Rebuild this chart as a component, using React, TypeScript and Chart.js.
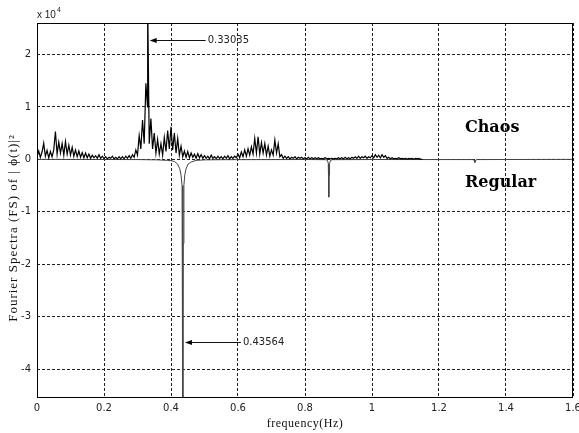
import { useEffect, useRef } from 'react';
import { Chart, registerables } from 'chart.js';

Chart.register(...registerables);

// Chaos spectrum, sampled every 0.005 Hz from 0 to 1.15 Hz (units of 10^4)
const chaosStep = 0.005;
const chaosValues = [
  0.05, 0.16, 0.04, 0.14, 0.31, 0.06, 0.17, 0.03, 0.15, 0.05,
  0.18, 0.53, 0.10, 0.33, 0.12, 0.30, 0.08, 0.34, 0.10, 0.27,
  0.08, 0.23, 0.06, 0.18, 0.05, 0.16, 0.04, 0.13, 0.03, 0.12,
  0.03, 0.10, 0.02, 0.08, 0.03, 0.07, 0.02, 0.09, 0.02, 0.06,
  0.01, 0.05, 0.01, 0.04, 0.02, 0.06, 0.01, 0.04, 0.01, 0.05,
  0.01, 0.05, 0.01, 0.06, 0.02, 0.07, 0.02, 0.09, 0.04, 0.18,
  0.08, 0.45, 0.20, 0.75, 0.30, 1.45, 1.00, 0.30, 0.78, 0.20,
  0.50, 0.12, 0.38, 0.10, 0.30, 0.08, 0.42, 0.15, 0.55, 0.20,
  0.62, 0.18, 0.50, 0.12, 0.40, 0.08, 0.25, 0.05, 0.16, 0.04,
  0.15, 0.03, 0.12, 0.04, 0.10, 0.02, 0.11, 0.03, 0.09, 0.02,
  0.07, 0.02, 0.06, 0.01, 0.08, 0.02, 0.05, 0.01, 0.06, 0.02,
  0.05, 0.01, 0.06, 0.02, 0.07, 0.01, 0.05, 0.02, 0.06, 0.03,
  0.10, 0.03, 0.14, 0.05, 0.18, 0.06, 0.20, 0.08, 0.24, 0.10,
  0.40, 0.12, 0.43, 0.10, 0.32, 0.12, 0.30, 0.08, 0.25, 0.06,
  0.18, 0.08, 0.37, 0.12, 0.30, 0.05, 0.09, 0.02, 0.06, 0.02,
  0.05, 0.01, 0.04, 0.02, 0.05, 0.01, 0.04, 0.02, 0.04, 0.01,
  0.03, 0.01, 0.04, 0.01, 0.03, 0.01, 0.03, 0.01, 0.03, 0.01,
  0.02, 0.01, 0.03, 0.01, 0.02, 0.01, 0.02, 0.01, 0.02, 0.01,
  0.03, 0.01, 0.03, 0.01, 0.04, 0.01, 0.03, 0.01, 0.04, 0.02,
  0.05, 0.02, 0.06, 0.02, 0.05, 0.03, 0.06, 0.02, 0.05, 0.03,
  0.07, 0.03, 0.09, 0.04, 0.08, 0.03, 0.09, 0.04, 0.07, 0.02,
  0.04, 0.01, 0.03, 0.01, 0.02, 0.01, 0.03, 0.01, 0.02, 0.01,
  0.02, 0.00, 0.02, 0.01, 0.02, 0.00, 0.02, 0.01, 0.02, 0.00, 0.0,
];
const chaosPeakFreq = 0.33035;
const chaosPeakValue = 3.0;

// Regular spectrum (negative side)
const regularFreq = [
  0, 0.30, 0.36, 0.39, 0.40, 0.41, 0.42, 0.426, 0.430, 0.433,
  0.4350, 0.43564, 0.4362, 0.4385, 0.441, 0.445, 0.451, 0.46, 0.475, 0.50,
  0.56, 0.80, 0.862, 0.867, 0.8695, 0.8708, 0.87128, 0.8718, 0.8732, 0.876,
  0.882, 1.0, 1.300, 1.305, 1.307, 1.309, 1.314, 1.6,
];
const regularValues = [
  0, -0.004, -0.01, -0.02, -0.025, -0.04, -0.09, -0.18, -0.3, -0.5,
  -1.6, -6.0, -1.6, -0.5, -0.3, -0.18, -0.09, -0.05, -0.02, -0.01,
  -0.006, -0.003, -0.006, -0.02, -0.08, -0.3, -0.72, -0.3, -0.08, -0.02,
  -0.006, -0.003, -0.004, -0.015, -0.06, -0.015, -0.004, 0,
];

const xTicks = [0, 0.2, 0.4, 0.6, 0.8, 1.0, 1.2, 1.4, 1.6];
const yTicks = [-4, -3, -2, -1, 0, 1, 2];

const annotFreq = [0.33035, 0.43564];
const annotY = [2.27, -3.475];
const annotLabels = ['0.33035', '0.43564'];

const xTitle = 'frequency(Hz)';
const yTitle = 'Fourier Spectra (FS) of | \u03d5(t)|\u00b2';
const chaosLabel = 'Chaos';
const regularLabel = 'Regular';

function buildChaos() {
  const pts: { x: number; y: number }[] = [];
  chaosValues.forEach((v, i) => {
    const f = Math.round(i * chaosStep * 100000) / 100000;
    pts.push({ x: f, y: v });
    if (f === 0.33) pts.push({ x: chaosPeakFreq, y: chaosPeakValue });
  });
  return pts;
}

const overlay = {
  id: 'overlay',
  afterDraw(chart: any) {
    const { ctx, chartArea: a, scales } = chart;
    const xs = scales.x;
    const ys = scales.y;
    ctx.save();
    ctx.setLineDash([]);
    ctx.strokeStyle = '#000';
    ctx.lineWidth = 1;
    const l = Math.round(a.left) + 0.5;
    const t = Math.round(a.top) + 0.5;
    const r = Math.round(a.right) - 0.5;
    const b = Math.round(a.bottom) - 0.5;
    ctx.strokeRect(l, t, r - l, b - t);

    ctx.fillStyle = '#000';
    ctx.strokeStyle = '#111';
    annotFreq.forEach((f, i) => {
      const px = xs.getPixelForValue(f);
      const py = Math.round(ys.getPixelForValue(annotY[i])) + 0.5;
      const tip = px + 2;
      ctx.beginPath();
      ctx.moveTo(tip + 4, py);
      ctx.lineTo(px + 58, py);
      ctx.stroke();
      ctx.beginPath();
      ctx.moveTo(tip, py);
      ctx.lineTo(tip + 7, py - 2.5);
      ctx.lineTo(tip + 7, py + 2.5);
      ctx.closePath();
      ctx.fill();
      ctx.font = '10px "DejaVu Sans"';
      ctx.fillStyle = '#222';
      ctx.textAlign = 'left';
      ctx.textBaseline = 'middle';
      ctx.fillText(annotLabels[i], px + 60, py);
      ctx.fillStyle = '#000';
    });

    ctx.fillStyle = '#222';
    ctx.textAlign = 'left';
    ctx.textBaseline = 'alphabetic';
    ctx.font = '10px "Liberation Sans"';
    ctx.fillText('x 10', 37, 18);
    const w = ctx.measureText('x 10').width;
    ctx.font = '7px "Liberation Sans"';
    ctx.fillText('4', 37 + w + 1, 12);

    ctx.fillStyle = '#000';
    ctx.font = 'bold 16px "DejaVu Serif"';
    ctx.textBaseline = 'middle';
    ctx.fillText(chaosLabel, 465, 128);
    ctx.fillText(regularLabel, 465, 183);

    ctx.font = '12px "Liberation Serif"';
    ctx.textAlign = 'center';
    ctx.fillStyle = '#111';
    (ctx as any).letterSpacing = '0.5px';
    ctx.fillText(xTitle, (a.left + a.right) / 2, 424);
    ctx.translate(14, 228);
    ctx.rotate(-Math.PI / 2);
    ctx.font = '13px "Liberation Serif"';
    (ctx as any).letterSpacing = '1px';
    ctx.fillText(yTitle, 0, 0);
    ctx.restore();
  },
};

export default function App() {
  const ref = useRef<HTMLCanvasElement>(null);
  useEffect(() => {
    if (!ref.current) return;
    const chaosPts = buildChaos();
    const regularPts = regularFreq.map((f, i) => ({ x: f, y: regularValues[i] }));
    const tickFont = { family: '"DejaVu Sans"', size: 10 };
    const chart = new Chart(ref.current, {
      type: 'line',
      data: {
        datasets: [
          {
            label: chaosLabel,
            data: chaosPts,
            borderColor: '#000',
            borderWidth: 1.2,
            pointRadius: 0,
            tension: 0,
            order: 0,
          },
          {
            label: regularLabel,
            data: regularPts,
            borderColor: '#444',
            borderWidth: 1,
            pointRadius: 0,
            tension: 0,
            order: 1,
          },
        ],
      },
      options: {
        animation: false,
        responsive: false,
        layout: { padding: { top: 23, right: 6, left: 0, bottom: 0 } },
        plugins: {
          legend: { display: false },
          tooltip: { enabled: false },
          title: { display: false },
        },
        scales: {
          x: {
            type: 'linear',
            min: 0,
            max: 1.6,
            afterBuildTicks: (s: any) => {
              s.ticks = xTicks.map((v) => ({ value: v }));
            },
            afterFit: (s: any) => {
              s.height = 35;
              s.paddingLeft = 0;
              s.paddingRight = 0;
            },
            ticks: {
              autoSkip: false,
              maxRotation: 0,
              padding: 4,
              color: '#222',
              font: tickFont,
              callback: (v: any) => String(Math.round(Number(v) * 10) / 10),
            },
            grid: { color: '#222', lineWidth: 1, drawTicks: false },
            border: { display: false, dash: [3, 2] },
          },
          y: {
            type: 'linear',
            min: -4.55,
            max: 2.6,
            afterBuildTicks: (s: any) => {
              s.ticks = yTicks.map((v) => ({ value: v }));
            },
            afterFit: (s: any) => {
              s.width = 37;
              s.paddingTop = 0;
              s.paddingBottom = 0;
            },
            ticks: {
              padding: 6,
              color: '#222',
              font: tickFont,
              callback: (v: any) => String(v),
            },
            grid: { color: '#222', lineWidth: 1, drawTicks: false },
            border: { display: false, dash: [3, 2] },
          },
        },
      },
      plugins: [overlay],
    });
    return () => chart.destroy();
  }, []);
  return (
    <div style={{ position: 'absolute', left: 0, top: 0, width: 579, height: 433, background: '#fff' }}>
      <canvas ref={ref} width={579} height={433} />
    </div>
  );
}
